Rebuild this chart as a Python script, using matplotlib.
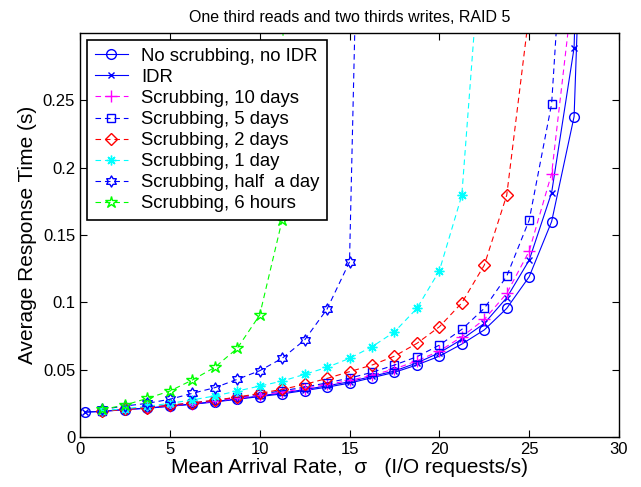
from matplotlib import pyplot as plt
from matplotlib.path import Path
import numpy as np

plt.rcParams['font.family'] = ['Liberation Sans', 'DejaVu Sans']

# arrival rates (I/O requests/s)
rate_all = [0.3, 1.25, 2.5, 3.75, 5, 6.25, 7.5, 8.75, 10, 11.25, 12.5, 13.75,
            15, 16.25, 17.5, 18.75, 20, 21.25, 22.5, 23.75, 25, 26.25, 27.5, 28.75]
rate = rate_all[1:]

no_scrub = [0.0185, 0.019, 0.0203, 0.0213, 0.0228, 0.0243, 0.026, 0.028, 0.030, 0.032,
            0.0345, 0.037, 0.040, 0.044, 0.048, 0.0535, 0.060, 0.069, 0.0795, 0.0955,
            0.119, 0.160, 0.238, 0.72]
idr = [0.0185, 0.019, 0.0205, 0.0215, 0.023, 0.0245, 0.0263, 0.0283, 0.0305, 0.0327,
       0.0352, 0.038, 0.041, 0.045, 0.049, 0.055, 0.0625, 0.0725, 0.0843, 0.1034,
       0.1313, 0.1815, 0.289, 0.9]
scrub_10d = [0.019, 0.0205, 0.0217, 0.0232, 0.0248, 0.0266, 0.0287, 0.031, 0.0333, 0.036,
             0.039, 0.042, 0.0458, 0.0505, 0.0565, 0.0638, 0.0744, 0.0873, 0.1066, 0.138,
             0.1956, 0.34]
scrub_5d = [0.019, 0.0207, 0.022, 0.0236, 0.0253, 0.0272, 0.0294, 0.0318, 0.0343, 0.037,
            0.0402, 0.0437, 0.048, 0.0534, 0.0596, 0.0682, 0.0799, 0.0955, 0.1194, 0.161,
            0.2475, 0.51]
scrub_2d = [0.019, 0.0205, 0.0218, 0.0235, 0.0253, 0.0273, 0.0296, 0.0324, 0.0354, 0.039,
            0.0435, 0.0485, 0.0534, 0.060, 0.0695, 0.0818, 0.0996, 0.1276, 0.1795, 0.315]
scrub_1d = [0.0195, 0.021, 0.0228, 0.025, 0.0275, 0.0305, 0.0341, 0.0378, 0.0415, 0.0465,
            0.0517, 0.0584, 0.067, 0.078, 0.0955, 0.1234, 0.1795, 0.40]
scrub_half = [0.0205, 0.023, 0.025, 0.028, 0.0324, 0.0366, 0.0428, 0.0492, 0.0584, 0.072,
              0.095, 0.130, 0.86]
scrub_6h = [0.0205, 0.0237, 0.0287, 0.0341, 0.0423, 0.0517, 0.0658, 0.0905, 0.161, 3.6]

# six pointed star marker (matlab hexagram)
ang = np.pi / 2 + np.arange(12) * np.pi / 6
rad = np.where(np.arange(12) % 2 == 0, 1.0, 0.58)
hexagram = Path(np.column_stack([rad * np.cos(ang), rad * np.sin(ang)]).tolist() + [[0, 1]],
                closed=True)

fig = plt.figure(figsize=(6.41, 4.87), dpi=100)
ax = fig.add_axes([0.1248, 0.1027, 0.8409, 0.8295])

lw = 0.8
dash = (0, (5, 3.5))
ax.plot(rate_all, no_scrub, color='b', lw=lw, marker='o', ms=7, mfc='none', label='No scrubbing, no IDR')
ax.plot(rate_all, idr, color='b', lw=lw, marker='x', ms=4.5, label='IDR')
ax.plot(rate[:len(scrub_10d)], scrub_10d, color='#ff00ff', lw=lw, ls=dash, marker='+', ms=8, label='Scrubbing, 10 days')
ax.plot(rate[:len(scrub_5d)], scrub_5d, color='b', lw=lw, ls=dash, marker='s', ms=6, mfc='none', label='Scrubbing, 5 days')
ax.plot(rate[:len(scrub_2d)], scrub_2d, color='r', lw=lw, ls=dash, marker='D', ms=6, mfc='none', label='Scrubbing, 2 days')
ax.plot(rate[:len(scrub_1d)], scrub_1d, color='#00ffff', lw=lw, ls=dash, marker=(8, 2, 0), ms=7, label='Scrubbing, 1 day')
ax.plot(rate[:len(scrub_half)], scrub_half, color='b', lw=lw, ls=dash, marker=hexagram, ms=8, mfc='none',
        label='Scrubbing, half  a day')
ax.plot(rate[:len(scrub_6h)], scrub_6h, color='#00ff00', lw=lw, ls=dash, marker='*', ms=9, mfc='none',
        label='Scrubbing, 6 hours')

ax.set_xlim(0, 30)
ax.set_ylim(0, 0.3)
ax.set_xticks([0, 5, 10, 15, 20, 25, 30])
ax.set_yticks([0, 0.05, 0.1, 0.15, 0.2, 0.25])
ax.set_yticklabels(['0', '0.05', '0.1', '0.15', '0.2', '0.25'])
ax.tick_params(direction='in', top=True, right=True, length=5, labelsize=12, width=0.8)
for s in ax.spines.values():
    s.set_linewidth(1.0)

ax.set_title('One third reads and two thirds writes, RAID 5', fontsize=11.5, pad=8)
ax.set_xlabel('Mean Arrival Rate,  σ   (I/O requests/s)', fontsize=15, labelpad=1)
ax.set_ylabel('Average Response Time (s)', fontsize=15, labelpad=4)

leg = ax.legend(loc='upper left', fontsize=13.3, fancybox=False, framealpha=1, edgecolor='black',
                handlelength=1.8, labelspacing=0.22, borderaxespad=0.4, handletextpad=0.7, borderpad=0.4)
leg.get_frame().set_linewidth(1.2)

plt.savefig('out.png', dpi=100)
